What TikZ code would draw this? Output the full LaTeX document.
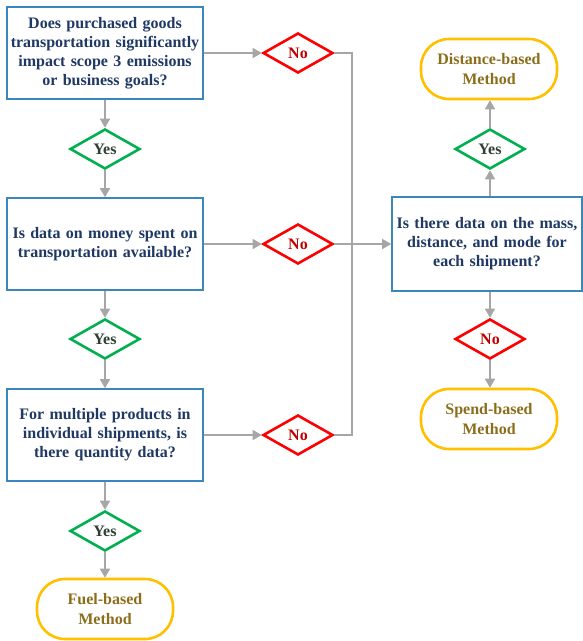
\documentclass[tikz,border=0pt]{standalone}
\usepackage{fontspec}
\setmainfont{Liberation Serif}
\usetikzlibrary{shapes.geometric,arrows.meta}
\definecolor{boxblue}{HTML}{3B87BC}
\definecolor{navy}{HTML}{1F3864}
\definecolor{ygreen}{HTML}{00B050}
\definecolor{ytext}{HTML}{2E3F35}
\definecolor{nred}{HTML}{FF0000}
\definecolor{ntext}{HTML}{C00000}
\definecolor{tgold}{HTML}{FFC000}
\definecolor{ttext}{HTML}{8B6D1A}
\definecolor{arrgray}{HTML}{A6A6A6}
\tikzset{
  qbox/.style={draw=boxblue, line width=1.6pt, fill=white, minimum width=196pt, minimum height=92pt,
    align=center, text width=194pt, text=navy, font=\bfseries\fontsize{16}{19}\selectfont, inner sep=0pt},
  yesd/.style={diamond, draw=ygreen, line width=2.6pt, minimum width=70pt, minimum height=40pt, aspect=1.75,
    inner sep=0pt, text=ytext, font=\bfseries\fontsize{16}{16}\selectfont},
  nod/.style={diamond, draw=nred, line width=2.6pt, minimum width=70pt, minimum height=40pt, aspect=1.75,
    inner sep=0pt, text=ntext, font=\bfseries\fontsize{16}{16}\selectfont},
  term/.style={draw=tgold, line width=2.6pt, rounded corners=28pt, minimum width=136pt, minimum height=60pt,
    align=center, text=ttext, font=\bfseries\fontsize{16}{20}\selectfont, inner sep=0pt},
  conn/.style={draw=arrgray, line width=1.6pt, -{Triangle[length=9pt,width=10pt]}},
  plain/.style={draw=arrgray, line width=1.6pt},
}
\begin{document}
\begin{tikzpicture}[x=1pt,y=-1pt]
\useasboundingbox (0,0) rectangle (583,641);
\node[qbox] (q1) at (105,53) {Does purchased goods\\transportation significantly\\impact scope 3 emissions\\or business goals?};
\node[qbox] (q2) at (105,244) {Is data on money spent on\\transportation available?};
\node[qbox] (q3) at (105,435) {For multiple products in\\individual shipments, is\\there quantity data?};
\node[qbox, minimum width=190pt, text width=188pt, minimum height=94pt] (q4) at (487,244) {Is there data on the mass,\\distance, and mode for\\each shipment?};
\node[yesd] (y1) at (105,149) {Yes};
\node[yesd] (y2) at (105,339) {Yes};
\node[yesd] (y3) at (105,531) {Yes};
\node[yesd] (y4) at (490,149) {Yes};
\node[nod] (n1) at (298,53) {No};
\node[nod] (n2) at (298,244) {No};
\node[nod] (n3) at (298,435) {No};
\node[nod] (n4) at (490,339) {No};
\node[term] (fuel) at (105,609) {Fuel-based\\Method};
\node[term] (dist) at (489,69) {Distance-based\\Method};
\node[term] (spend) at (489,419) {Spend-based\\Method};
\coordinate (j1) at (352,53);
\coordinate (j2) at (352,244);
\coordinate (j3) at (352,435);
\draw[conn] (q1) -- (y1);
\draw[conn] (y1) -- (q2);
\draw[conn] (q2) -- (y2);
\draw[conn] (y2) -- (q3);
\draw[conn] (q3) -- (y3);
\draw[conn] (y3) -- (fuel);
\draw[conn] (q1) -- (n1);
\draw[conn] (q2) -- (n2);
\draw[conn] (q3) -- (n3);
\draw[plain] (n1.east) -- (j1) -- (j3) -- (n3.east);
\draw[plain] (n2.east) -- (j2);
\draw[conn] (j2) -- (q4.west);
\draw[conn] (q4.north -| y4) -- (y4);
\draw[conn] (y4) -- (dist.south -| y4);
\draw[conn] (q4.south -| n4) -- (n4);
\draw[conn] (n4) -- (spend.north -| n4);
\end{tikzpicture}
\end{document}
